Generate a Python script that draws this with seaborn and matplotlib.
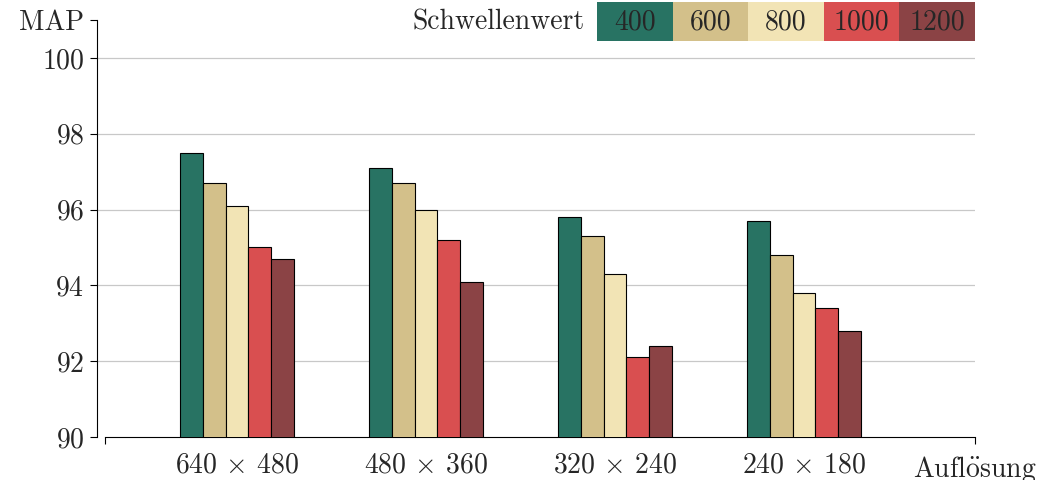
import pandas as pd
import matplotlib.pyplot as plt
import matplotlib.patches as mpatches
import seaborn as sns

# Datos
aufloesungen = ["640 $\\times$ 480", "480 $\\times$ 360", "320 $\\times$ 240", "240 $\\times$ 180"]
schwellen = ["400", "600", "800", "1000", "1200"]
map_400 = [97.5, 97.1, 95.8, 95.7]
map_600 = [96.7, 96.7, 95.3, 94.8]
map_800 = [96.1, 96.0, 94.3, 93.8]
map_1000 = [95.0, 95.2, 92.1, 93.4]
map_1200 = [94.7, 94.1, 92.4, 92.8]
farben = ["#287363", "#d3c08a", "#f2e4b5", "#d94f50", "#8b4345"]

werte = [map_400, map_600, map_800, map_1000, map_1200]
rows = []
for s, vals in zip(schwellen, werte):
    for a, v in zip(aufloesungen, vals):
        rows.append({"Aufloesung": a, "Schwelle": s, "MAP": v})
df = pd.DataFrame(rows)

sns.set_style("white")
plt.rcParams["font.family"] = ["cmr10", "DejaVu Serif"]
plt.rcParams["mathtext.fontset"] = "cm"
plt.rcParams["axes.unicode_minus"] = False
plt.rcParams["axes.formatter.use_mathtext"] = True

fig = plt.figure(figsize=(10.42, 4.8), dpi=100)
ax = fig.add_axes([97 / 1042, 43 / 480, 878 / 1042, 417 / 480])

sns.barplot(
    data=df, x="Aufloesung", y="MAP", hue="Schwelle",
    order=aufloesungen, hue_order=schwellen, palette=farben,
    saturation=1, width=0.603, edgecolor="black", linewidth=0.8,
    legend=False, ax=ax, zorder=3,
)

# Achsen
x0, x1 = -0.698, 3.905
ax.set_xlim(-0.741, x1)
ax.set_ylim(90, 101)
ax.set_xlabel("")
ax.set_ylabel("")

ax.set_xticks([x0, x1], ["", "Aufl$\\ddot{\\mathrm{o}}$sung"])
ax.set_xticks(range(4), aufloesungen, minor=True)
ax.tick_params(axis="x", which="major", bottom=True, length=5, width=0.8,
               direction="out", pad=7, labelsize=20, color="black")
ax.tick_params(axis="x", which="minor", bottom=True, length=0, pad=10.6, labelsize=20)

ax.set_yticks([90, 92, 94, 96, 98, 100])
ax.set_yticks([101], ["MAP"], minor=True)
ax.tick_params(axis="y", which="both", left=True, length=5, width=0.8,
               direction="out", pad=4, labelsize=20, color="black")

ax.yaxis.grid(True, which="major", color="#c8c8c8", linewidth=0.9, zorder=0)
ax.get_ygridlines()[0].set_visible(False)
ax.xaxis.grid(False)

sns.despine(ax=ax)
ax.spines["left"].set_bounds(90, 101)
ax.spines["bottom"].set_bounds(x0, x1)
for sp in ["left", "bottom"]:
    ax.spines[sp].set_linewidth(0.8)
    ax.spines[sp].set_color("black")

# Legende oben
W, H = 1042, 480
fig.text(585 / W, 1 - 22 / H, "Schwellenwert", ha="right", va="center", fontsize=20)
bw = (975 - 597) / 5
for i, (s, c) in enumerate(zip(schwellen, farben)):
    left = 597 + i * bw
    fig.patches.append(mpatches.Rectangle((left / W, 1 - 41 / H), bw / W, 39 / H,
                                          transform=fig.transFigure, facecolor=c,
                                          edgecolor="none"))
    fig.text((left + bw / 2) / W, 1 - 22 / H, s, ha="center", va="center", fontsize=20)

plt.savefig("out.png", dpi=100)
plt.close()
